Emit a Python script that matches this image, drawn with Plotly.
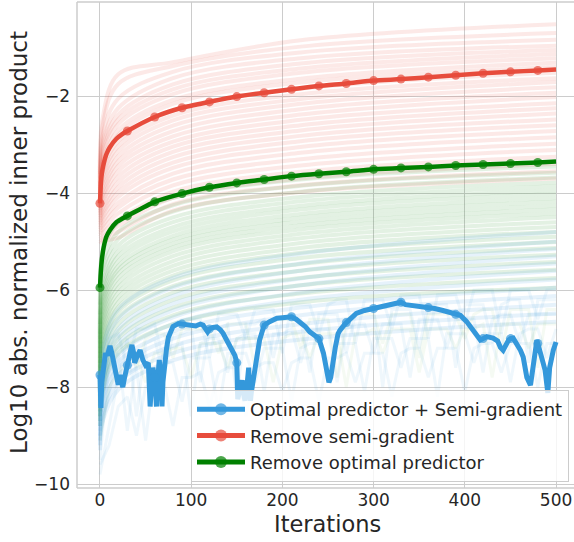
import plotly.graph_objects as go

# ---------------------------------------------------------------- data
# Averaged curves (markers every 30 iterations)
RED_ITERS = [0, 1, 2, 4, 7, 11, 18, 24, 30, 60, 90, 120, 150, 180, 210, 240,
             270, 300, 330, 360, 390, 420, 450, 480, 500]
RED_VALS = [-4.21, -3.8, -3.6, -3.4, -3.2, -3.05, -2.88, -2.79, -2.72, -2.43,
            -2.24, -2.12, -2.01, -1.93, -1.86, -1.79, -1.74, -1.68, -1.65,
            -1.61, -1.57, -1.53, -1.50, -1.47, -1.45]

GREEN_ITERS = RED_ITERS
GREEN_VALS = [-5.95, -5.6, -5.38, -5.12, -4.9, -4.76, -4.6, -4.53, -4.47, -4.18,
              -4.01, -3.88, -3.79, -3.72, -3.65, -3.60, -3.56, -3.51, -3.48,
              -3.46, -3.43, -3.41, -3.39, -3.37, -3.35]

BLUE_ITERS = [0, 1, 2, 4, 6, 8, 11, 13, 16, 18, 20, 22, 25, 27, 29, 30, 32, 35,
              37, 38, 41, 44, 47, 50, 53, 55, 57, 58, 60, 62, 63, 65, 67, 68, 69,
              71, 73, 75, 78, 80, 86, 90, 95, 99, 105, 110, 113, 118, 120, 124,
              128, 132, 135, 140, 145, 148, 150, 151, 153, 156, 158, 159, 161,
              163, 164, 165, 166, 168, 172, 175, 179, 180, 186, 194, 200, 205,
              210, 215, 219, 225, 230, 238, 240, 245, 249, 251, 253, 256, 258,
              261, 263, 269, 270, 275, 281, 290, 300, 308, 315, 322, 329, 330,
              335, 340, 350, 358, 360, 367, 376, 387, 390, 395, 402, 409, 417,
              420, 424, 431, 436, 439, 442, 448, 450, 453, 457, 461, 464, 468,
              472, 475, 479, 480, 484, 488, 491, 493, 497, 500]
BLUE_VALS = [-7.75, -8.43, -7.9, -7.5, -7.3, -7.35, -7.15, -7.3, -7.6, -7.7,
             -7.95, -7.75, -8.0, -7.8, -7.6, -7.55, -7.35, -7.13, -7.3, -7.5,
             -7.35, -7.24, -7.44, -7.55, -7.5, -8.4, -7.8, -7.6, -7.8, -8.4,
             -7.9, -7.44, -7.8, -8.4, -7.9, -7.44, -7.2, -6.97, -6.85, -6.75,
             -6.69, -6.7, -6.72, -6.72, -6.74, -6.7, -6.72, -6.86, -6.8, -6.77,
             -6.76, -6.82, -6.89, -7.07, -7.24, -7.35, -7.5, -8.25, -8.1,
             -7.86, -8.2, -8.28, -8.0, -7.6, -8.15, -8.28, -8.1, -7.8, -7.38,
             -7.03, -6.75, -6.72, -6.65, -6.58, -6.57, -6.56, -6.55, -6.6,
             -6.65, -6.75, -6.86, -6.99, -7.0, -7.3, -7.71, -7.9, -7.8, -7.3,
             -7.18, -6.9, -6.83, -6.69, -6.67, -6.57, -6.48, -6.42, -6.38,
             -6.34, -6.31, -6.28, -6.24, -6.25, -6.3, -6.31, -6.33, -6.35,
             -6.36, -6.38, -6.42, -6.48, -6.5, -6.52, -6.65, -6.82, -7.03,
             -7.0, -6.96, -6.99, -7.05, -7.18, -7.24, -7.03, -7.0, -6.99, -7.1,
             -7.24, -7.38, -7.8, -7.96, -7.51, -7.03, -7.1, -7.38, -7.65,
             -8.12, -7.6, -7.24, -7.07]

# Individual runs, sampled at a few iterations
KNOT_ITERS = [0, 3, 20, 80, 220, 500]
RED_RUNS = [
    [-3.6, -2.45, -1.55, -1.3, -0.85, -0.52],
    [-3.7, -2.6, -1.75, -1.38, -0.98, -0.7],
    [-3.8, -2.8, -2.05, -1.5, -1.1, -0.84],
    [-3.85, -2.95, -2.25, -1.63, -1.22, -0.96],
    [-3.9, -3.05, -2.38, -1.76, -1.33, -1.05],
    [-3.95, -3.15, -2.48, -1.86, -1.43, -1.13],
    [-4.0, -3.25, -2.58, -1.96, -1.52, -1.22],
    [-4.05, -3.35, -2.7, -2.08, -1.64, -1.31],
    [-4.1, -3.45, -2.8, -2.16, -1.72, -1.40],
    [-4.15, -3.55, -2.93, -2.3, -1.85, -1.52],
    [-4.2, -3.65, -3.03, -2.4, -1.96, -1.63],
    [-4.25, -3.75, -3.13, -2.5, -2.06, -1.71],
    [-4.3, -3.85, -3.24, -2.61, -2.16, -1.82],
    [-4.35, -3.95, -3.34, -2.72, -2.27, -1.93],
    [-4.4, -4.05, -3.44, -2.83, -2.38, -2.02],
    [-4.45, -4.12, -3.55, -2.94, -2.49, -2.15],
    [-4.5, -4.2, -3.66, -3.04, -2.6, -2.25],
    [-4.55, -4.3, -3.77, -3.15, -2.71, -2.36],
    [-4.6, -4.38, -3.88, -3.26, -2.82, -2.48],
    [-4.65, -4.45, -3.98, -3.37, -2.93, -2.6],
    [-4.7, -4.52, -4.08, -3.48, -3.05, -2.72],
    [-4.75, -4.6, -4.2, -3.6, -3.17, -2.85],
    [-4.8, -4.68, -4.3, -3.72, -3.3, -2.98],
    [-4.85, -4.75, -4.42, -3.84, -3.43, -3.11],
    [-4.9, -4.82, -4.55, -3.97, -3.56, -3.25],
    [-4.95, -4.9, -4.68, -4.1, -3.7, -3.4],
    [-5.0, -4.95, -4.8, -4.23, -3.84, -3.55],
    [-5.05, -5.0, -4.92, -4.36, -3.98, -3.7],
]
GREEN_RUNS = [
    [-6.0, -5.2, -4.6, -4.1, -3.72, -3.45],
    [-6.3, -5.45, -4.8, -4.25, -3.85, -3.58],
    [-6.5, -5.6, -4.95, -4.38, -3.97, -3.68],
    [-6.7, -5.75, -5.08, -4.5, -4.08, -3.78],
    [-6.9, -5.9, -5.2, -4.6, -4.17, -3.86],
    [-7.0, -6.0, -5.3, -4.7, -4.26, -3.94],
    [-7.1, -6.1, -5.4, -4.79, -4.34, -4.02],
    [-7.2, -6.2, -5.5, -4.88, -4.43, -4.1],
    [-7.3, -6.3, -5.58, -4.96, -4.51, -4.18],
    [-7.4, -6.4, -5.66, -5.04, -4.59, -4.26],
    [-7.5, -6.5, -5.75, -5.12, -4.67, -4.34],
    [-7.6, -6.6, -5.85, -5.2, -4.75, -4.42],
    [-7.7, -6.7, -5.95, -5.3, -4.84, -4.5],
    [-7.8, -6.8, -6.05, -5.4, -4.93, -4.6],
    [-7.9, -6.9, -6.15, -5.5, -5.03, -4.7],
    [-8.0, -7.0, -6.25, -5.6, -5.13, -4.8],
    [-8.1, -7.1, -6.35, -5.7, -5.23, -4.9],
    [-8.2, -7.2, -6.45, -5.8, -5.34, -5.01],
    [-8.3, -7.3, -6.57, -5.92, -5.46, -5.13],
    [-8.4, -7.45, -6.7, -6.05, -5.6, -5.27],
    [-8.5, -7.6, -6.85, -6.2, -5.75, -5.42],
    [-8.6, -7.75, -7.0, -6.36, -5.9, -5.58],
    [-8.7, -7.9, -7.15, -6.52, -6.07, -5.75],
    [-8.8, -8.05, -7.3, -6.7, -6.25, -5.95],
]
BLUE_RUNS = [
    [-8.0, -7.2, -6.4, -5.75, -5.25, -4.8],
    [-8.2, -7.4, -6.6, -5.95, -5.45, -5.0],
    [-8.4, -7.6, -6.8, -6.12, -5.6, -5.15],
    [-8.5, -7.75, -6.95, -6.28, -5.76, -5.3],
    [-8.6, -7.9, -7.1, -6.42, -5.9, -5.45],
    [-8.7, -8.0, -7.22, -6.56, -6.05, -5.6],
    [-8.8, -8.1, -7.35, -6.7, -6.2, -5.78],
    [-8.9, -8.2, -7.48, -6.85, -6.36, -5.95],
    [-9.0, -8.3, -7.6, -7.0, -6.52, -6.12],
    [-9.1, -8.45, -7.75, -7.15, -6.7, -6.3],
    [-9.2, -8.6, -7.9, -7.3, -6.86, -6.48],
    [-9.3, -8.7, -8.05, -7.45, -7.02, -6.65],
]

# Noisy runs, sampled every 10 iterations
NOISY_ITERS = list(range(0, 510, 10))
BLUE_NOISY_RUNS = [
    [-9.5, -7.4, -7.9, -7.0, -8.6, -7.1, -7.0, -7.8, -6.9, -6.9,
     -6.8, -7.9, -6.8, -6.8, -6.7, -8.2, -6.7, -6.7, -6.6, -7.4,
     -6.6, -6.6, -6.6, -7.7, -6.5, -6.5, -6.5, -7.3, -6.5, -6.4,
     -6.4, -8.0, -6.4, -6.4, -6.4, -7.2, -6.3, -6.3, -6.3, -7.6,
     -6.3, -6.3, -6.3, -7.1, -6.3, -6.2, -6.2, -7.5, -6.2, -6.2,
     -6.2],
    [-9.0, -8.1, -7.3, -8.9, -7.4, -7.3, -8.4, -7.2, -7.2, -7.1,
     -8.6, -7.1, -7.0, -7.0, -7.7, -7.0, -6.9, -6.9, -8.1, -6.9,
     -6.9, -6.8, -7.5, -6.8, -6.8, -6.8, -7.9, -6.8, -6.7, -6.7,
     -7.3, -6.7, -6.7, -6.7, -7.8, -6.6, -6.6, -6.6, -7.2, -6.6,
     -6.6, -6.6, -7.7, -6.6, -6.5, -6.5, -7.1, -6.5, -6.5, -6.5,
     -6.5],
    [-9.8, -8.8, -7.8, -7.7, -7.6, -9.1, -7.6, -7.5, -7.5, -8.3,
     -7.4, -7.4, -7.4, -8.5, -7.3, -7.3, -7.3, -7.9, -7.2, -7.2,
     -7.2, -8.3, -7.2, -7.1, -7.1, -7.7, -7.1, -7.1, -7.1, -8.1,
     -7.0, -7.0, -7.0, -7.6, -7.0, -7.0, -7.0, -8.2, -6.9, -6.9,
     -6.9, -7.5, -6.9, -6.9, -6.9, -7.9, -6.9, -6.8, -6.8, -7.4,
     -6.8],
    [-8.8, -7.0, -6.9, -7.6, -6.8, -6.8, -6.7, -7.5, -6.7, -6.6,
     -6.6, -6.6, -7.4, -6.5, -6.5, -6.5, -7.0, -6.4, -6.4, -6.4,
     -7.3, -6.3, -6.3, -6.3, -6.9, -6.3, -6.2, -6.2, -7.1, -6.2,
     -6.2, -6.2, -6.8, -6.1, -6.1, -6.1, -7.0, -6.1, -6.1, -6.1,
     -6.7, -6.0, -6.0, -6.0, -6.9, -6.0, -6.0, -6.0, -6.6, -6.0,
     -6.0],
    [-9.6, -9.2, -8.4, -8.2, -9.0, -8.0, -7.9, -7.9, -8.8, -7.8,
     -7.8, -7.7, -8.4, -7.7, -7.6, -7.6, -8.6, -7.6, -7.5, -7.5,
     -8.1, -7.5, -7.4, -7.4, -8.3, -7.4, -7.4, -7.3, -7.9, -7.3,
     -7.3, -7.3, -8.2, -7.3, -7.2, -7.2, -7.8, -7.2, -7.2, -7.2,
     -8.1, -7.2, -7.1, -7.1, -7.7, -7.1, -7.1, -7.1, -8.0, -7.1,
     -7.1],
]
GREEN_NOISY_RUNS = [
    [-8.6, -7.4, -7.2, -7.1, -7.6, -7.0, -6.9, -6.9, -7.4, -6.8,
     -6.8, -6.8, -6.8, -7.3, -6.7, -6.7, -6.7, -7.6, -6.7, -6.6,
     -6.6, -6.6, -7.2, -6.6, -6.6, -6.6, -7.8, -6.6, -6.5, -6.5,
     -6.5, -7.1, -6.5, -6.5, -6.5, -7.4, -6.5, -6.5, -6.5, -6.5,
     -7.0, -6.5, -6.4, -6.4, -7.3, -6.4, -6.4, -6.4, -7.6, -6.4,
     -6.4],
    [-9.1, -8.0, -7.7, -7.5, -7.4, -7.9, -7.3, -7.3, -7.2, -7.2,
     -7.8, -7.1, -7.1, -7.1, -7.6, -7.0, -7.0, -7.0, -7.0, -7.9,
     -7.0, -6.9, -6.9, -7.4, -6.9, -6.9, -6.9, -8.0, -6.9, -6.9,
     -6.8, -7.3, -6.8, -6.8, -6.8, -7.7, -6.8, -6.8, -6.8, -7.2,
     -6.8, -6.8, -6.7, -7.8, -6.7, -6.7, -6.7, -7.2, -6.7, -6.7,
     -6.7],
]

SERIES_NAMES = ["Optimal predictor + Semi-gradient", "Remove semi-gradient",
                "Remove optimal predictor"]
X_TICKS = [0, 100, 200, 300, 400, 500]
Y_TICKS = [-10, -8, -6, -4, -2]
Y_TICK_TEXT = ["\u221210", "\u22128", "\u22126", "\u22124", "\u22122"]

# ---------------------------------------------------------------- style
BLUE = "#3498db"
RED = "#e74c3c"
GREEN = "#008000"
FONT = "DejaVu Sans"
TEXT = "#262626"
GRID = "#cccccc"

fig = go.Figure()


def faint(xs, ys, rgba, shape="spline", width=4):
    fig.add_trace(go.Scatter(
        x=xs, y=ys, mode="lines", showlegend=False, hoverinfo="skip",
        line=dict(color=rgba, width=width, shape=shape, smoothing=1.0)))


for run in RED_RUNS:
    faint(KNOT_ITERS, run, "rgba(231,76,60,0.12)")
for run in GREEN_RUNS:
    faint(KNOT_ITERS, run, "rgba(40,150,40,0.13)")
for run in BLUE_RUNS:
    faint(KNOT_ITERS, run, "rgba(52,152,219,0.12)")
for run in GREEN_NOISY_RUNS:
    faint(NOISY_ITERS, run, "rgba(120,190,90,0.07)", shape="linear", width=3)
for run in BLUE_NOISY_RUNS:
    faint(NOISY_ITERS, run, "rgba(52,152,219,0.08)", shape="linear", width=3)


def marker_sizes(iters):
    return [9 if it % 30 == 0 else 0 for it in iters]


main = [
    (SERIES_NAMES[0], BLUE_ITERS, BLUE_VALS, BLUE, "linear", 5),
    (SERIES_NAMES[1], RED_ITERS, RED_VALS, RED, "spline", 4.5),
    (SERIES_NAMES[2], GREEN_ITERS, GREEN_VALS, GREEN, "spline", 4.5),
]
for name, xs, ys, col, shape, lw in main:
    fig.add_trace(go.Scatter(
        x=xs, y=ys, name=name, mode="lines+markers", legendgroup=name,
        line=dict(color=col, width=lw, shape=shape, smoothing=0.6),
        marker=dict(color=col, size=marker_sizes(xs), line=dict(width=0))))

L, T, R, B = 77, 2, 0, 54
W, H = 574, 542
PW, PH = W - L - R, H - T - B

# frame on left, top and bottom (right side runs off the canvas)
frame = [dict(x0=0, x1=0, y0=0, y1=1), dict(x0=0, x1=1, y0=1, y1=1),
         dict(x0=0, x1=1, y0=0, y1=0)]
shapes = [dict(type="line", xref="paper", yref="paper", layer="above",
               line=dict(color=GRID, width=1.5), **f) for f in frame]

fig.update_layout(
    width=W, height=H, autosize=False,
    margin=dict(l=L, r=R, t=T, b=B, pad=0),
    paper_bgcolor="white", plot_bgcolor="white",
    font=dict(family=FONT, color=TEXT, size=17),
    shapes=shapes,
    legend=dict(
        x=(569 - L) / PW, xanchor="right", y=(H - B - 482) / PH,
        yanchor="bottom",
        bgcolor="rgba(255,255,255,0.8)", bordercolor=GRID, borderwidth=1,
        font=dict(family=FONT, size=18, color=TEXT),
        tracegroupgap=0, itemsizing="constant", itemwidth=48,
    ),
    xaxis=dict(
        range=[-25.2, 519.7], tickvals=X_TICKS, showgrid=True, gridcolor=GRID,
        gridwidth=1, zeroline=False, showline=False, ticks="",
        ticklabelstandoff=0,
        tickfont=dict(family=FONT, size=17, color=TEXT),
    ),
    yaxis=dict(
        range=[-10.08, -0.06], tickvals=Y_TICKS, ticktext=Y_TICK_TEXT,
        showgrid=True, gridcolor=GRID, gridwidth=1, zeroline=False,
        showline=False, ticks="", ticklabelstandoff=6,
        tickfont=dict(family=FONT, size=17, color=TEXT),
    ),
    annotations=[
        dict(text="Iterations", xref="paper", yref="paper",
             x=(327 - L) / PW, y=-(524 - (H - B)) / PH,
             xanchor="center", yanchor="middle", showarrow=False,
             font=dict(family=FONT, size=22.5, color=TEXT)),
        dict(text="Log10 abs. normalized inner product", xref="paper",
             yref="paper", x=-(L - 19) / PW, y=((H - B) - 243) / PH,
             textangle=-90, xanchor="center", yanchor="middle",
             showarrow=False, font=dict(family=FONT, size=23, color=TEXT)),
    ],
)

fig.write_html("out.html")
